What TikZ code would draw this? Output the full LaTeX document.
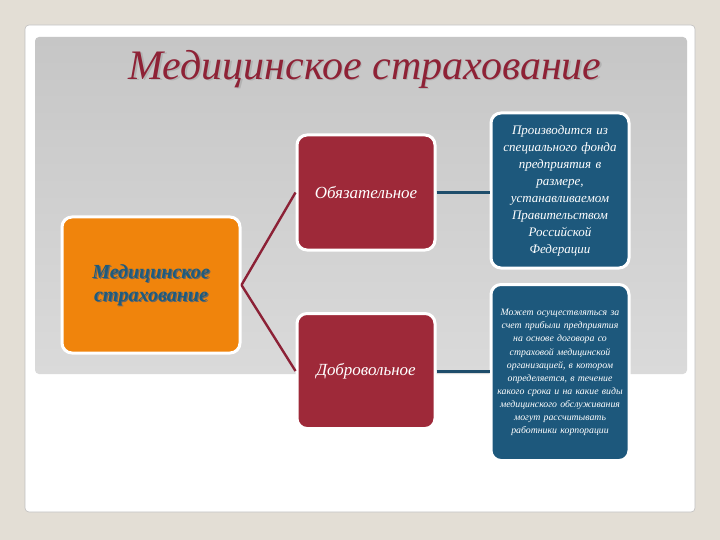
\documentclass[tikz,border=0pt]{standalone}
\usepackage{fontspec}
\setmainfont{Liberation Serif}
\definecolor{bgbeige}{HTML}{E3DED5}
\definecolor{bandtop}{HTML}{C6C6C6}
\definecolor{bandbot}{HTML}{DADADA}
\definecolor{titlered}{HTML}{8E2236}
\definecolor{boxred}{HTML}{9E2939}
\definecolor{boxblue}{HTML}{1D587C}
\definecolor{boxorange}{HTML}{F0840C}
\definecolor{linered}{HTML}{8C2136}
\definecolor{lineblue}{HTML}{1E4D6B}
\definecolor{orangetext}{HTML}{1E5B7E}
\tikzset{
  card/.style={rounded corners=10pt, draw=white, line width=3pt, inner sep=2pt, align=center},
  redbox/.style={card, fill=boxred, text=white, minimum width=138pt, minimum height=115pt, font=\itshape\fontsize{17}{19}\selectfont},
  bluebox/.style={card, fill=boxblue, text=white, text width=134pt, minimum width=138pt},
  orangebox/.style={card, fill=boxorange, minimum width=178pt, minimum height=136pt},
  orangelabel/.style={align=center, font=\bfseries\itshape\fontsize{20}{23}\selectfont},
  redlink/.style={draw=linered, line width=2.4pt},
  bluelink/.style={draw=lineblue, line width=3pt},
}
\begin{document}
\begin{tikzpicture}[x=1pt,y=-1pt]
\useasboundingbox (0,0) rectangle (720,540);
\fill[bgbeige] (0,0) rectangle (720,540);
\fill[white, draw=black!25, line width=0.6pt, rounded corners=4pt] (25,25) rectangle (695,512);
\shade[top color=bandtop, bottom color=bandbot, rounded corners=4pt] (35,37) rectangle (687,374);
% title
\node[text=black!30, font=\itshape\fontsize{42}{46}\selectfont] at (366.5,70.5) {Медицинское страхование};
\node (title) [text=titlered, font=\itshape\fontsize{42}{46}\selectfont] at (365,69) {Медицинское страхование};
% boxes
\node (root) [orangebox] at (151,285) {};
\node[orangelabel, text=black!60] at (152.2,286.2) {Медицинское\\страхование};
\node (rootlabel) [orangelabel, text=orangetext] at (root.center) {Медицинское\\страхование};
\node (ob) [redbox] at (366,192.5) {Обязательное};
\node (dob) [redbox] at (366,371) {Добровольное};
\node (fund) [bluebox, minimum height=155pt, font=\itshape\fontsize{13}{17}\selectfont] at (560,190.5) {Производится из\\специального фонда\\предприятия в\\размере,\\устанавливаемом\\Правительством\\Российской\\Федерации};
\node (vol) [bluebox, minimum height=176pt, font=\itshape\fontsize{9.8}{13.1}\selectfont] at (560,372.5) {Может осуществляться за\\счет прибыли предприятия\\на основе договора со\\страховой медицинской\\организацией, в котором\\определяется, в течение\\какого срока и на какие виды\\медицинского обслуживания\\могут рассчитывать\\работники корпорации};
% connectors
\draw[redlink] (root.east) -- (ob.west);
\draw[redlink] (root.east) -- (dob.west);
\draw[bluelink] (ob.east) -- (fund.west |- ob.east);
\draw[bluelink] (dob.east) -- (vol.west |- dob.east);
\end{tikzpicture}
\end{document}
